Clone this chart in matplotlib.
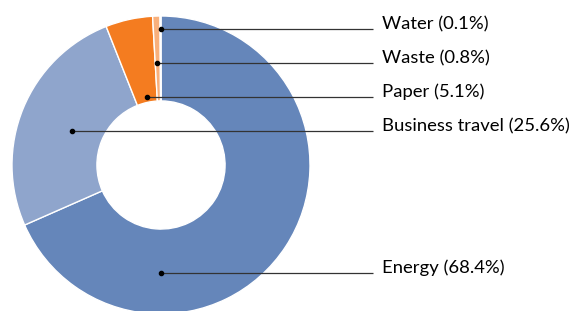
import numpy as np
import matplotlib
matplotlib.use("Agg")
import matplotlib.pyplot as plt

# data, clockwise from 12 o'clock
categories = ["Energy", "Business travel", "Paper", "Waste", "Water"]
shares = [68.4, 25.6, 5.1, 0.8, 0.1]
colors = ["#6586BA", "#8FA5CC", "#F47C20", "#F8B07C", "#C9D3E6"]

# label layout: pixel row of each leader line, and where the dot sits (deg, radius)
label_rows = [273, 131, 97, 63, 29]
dot_polar = [(-90.0, 0.725), (159.0, 0.64), (101.6, 0.466), (92.2, 0.685), (90.2, 0.913)]

W, H = 569, 311
CX, CY, R = 161, 165, 149   # pie centre and radius in pixels

fig = plt.figure(figsize=(W / 100, H / 100), dpi=100)
ax = fig.add_axes([0, 0, 1, 1])
ax.pie(shares, colors=colors, startangle=90, counterclock=False, radius=1,
       wedgeprops=dict(width=0.57, edgecolor="white", linewidth=1.0))
ax.set_xlim(-CX / R, (W - CX) / R)
ax.set_ylim((CY - H) / R, CY / R)
ax.set_aspect("auto")
ax.axis("off")

line_end = (373 - CX) / R
text_x = (382 - CX) / R
for name, pct, row, (ang, rr) in zip(categories, shares, label_rows, dot_polar):
    y = (CY - row) / R
    x0 = rr * np.cos(np.radians(ang))
    ax.plot([x0, line_end], [y, y], color="#333333", lw=0.9, solid_capstyle="butt")
    ax.plot(x0, y, "o", color="black", ms=3)
    ax.text(text_x, y, f"{name} ({pct}%)", ha="left", va="baseline",
            fontsize=13.3, family=["Lato", "DejaVu Sans"], color="black")

fig.savefig("out.png", dpi=100)
